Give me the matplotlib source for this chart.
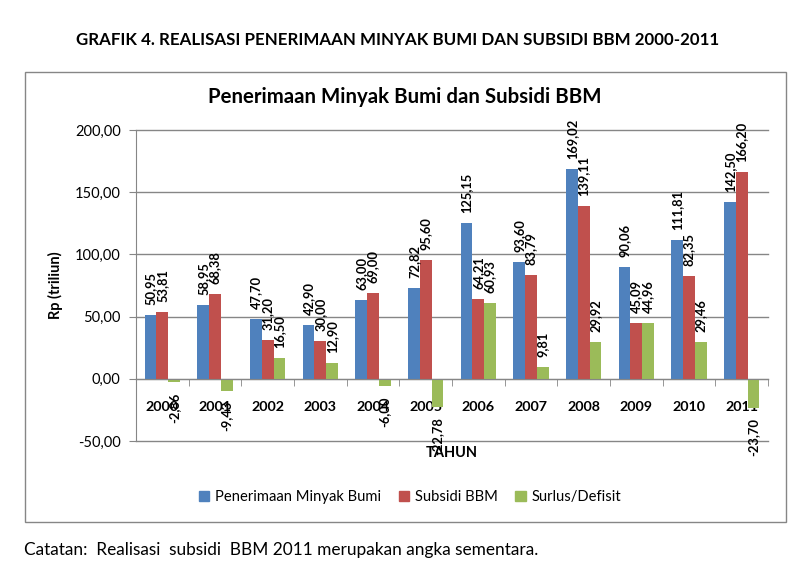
import matplotlib.pyplot as plt
from matplotlib.patches import Rectangle, Patch
import numpy as np

tahun = ['2000', '2001', '2002', '2003', '2004', '2005',
         '2006', '2007', '2008', '2009', '2010', '2011']
penerimaan = [50.95, 58.95, 47.70, 42.90, 63.00, 72.82,
              125.15, 93.60, 169.02, 90.06, 111.81, 142.50]
subsidi = [53.81, 68.38, 31.20, 30.00, 69.00, 95.60,
           64.21, 83.79, 139.11, 45.09, 82.35, 166.20]
surplus = [-2.86, -9.43, 16.50, 12.90, -6.00, -22.78,
           60.93, 9.81, 29.92, 44.96, 29.46, -23.70]

series = [('Penerimaan Minyak Bumi', penerimaan, '#4F81BD'),
          ('Subsidi BBM', subsidi, '#C0504D'),
          ('Surlus/Defisit', surplus, '#9BBB59')]

GRAY = '#868686'
W, H = 811, 581

plt.rcParams['font.family'] = 'Lato'


def fmt(v):
    return f'{v:.2f}'.replace('.', ',')


fig = plt.figure(figsize=(W / 100, H / 100), dpi=100)

# chart frame
fig.patches.append(Rectangle((25 / W, 1 - 522 / H), 761 / W, 450 / H,
                             transform=fig.transFigure, fill=False,
                             edgecolor=GRAY, linewidth=1))

ax = fig.add_axes([136 / W, 1 - 441 / H, (768 - 136) / W, (441 - 130) / H])

x = np.arange(len(tahun))
bw = 0.222
for k, (name, vals, col) in enumerate(series):
    xs = x + (k - 1) * bw
    ax.bar(xs, vals, bw, color=col, zorder=2)
    for xi, v in zip(xs, vals):
        off = 10 if v >= 0 else -10
        ax.annotate(fmt(v), (xi, v), xytext=(0, off), textcoords='offset pixels',
                    rotation=90, ha='center', va='bottom' if v >= 0 else 'top',
                    fontsize=9.3, fontweight='bold', zorder=4)

yt = [-50, 0, 50, 100, 150, 200]
ax.set_xlim(-0.5, len(tahun) - 0.5)
ax.set_ylim(-50, 200)
ax.set_yticks(yt)
ax.set_yticklabels([fmt(v) for v in yt], fontsize=10.5)
ax.yaxis.grid(True, color=GRAY, linewidth=1, zorder=0)
for gl in ax.get_ygridlines():
    gl.set_clip_on(False)
ax.set_axisbelow(True)

ax.spines['top'].set_visible(False)
ax.spines['right'].set_visible(False)
ax.spines['left'].set_color(GRAY)
ax.spines['bottom'].set_position(('data', 0))
ax.spines['bottom'].set_color(GRAY)
ax.spines['bottom'].set_zorder(3)

ax.set_xticks(x)
ax.set_xticklabels(tahun, fontsize=10.3, fontweight='bold')
ax.set_xticks(np.arange(len(tahun) + 1) - 0.5, minor=True)
ax.tick_params(axis='x', which='major', length=0, pad=16)
ax.tick_params(axis='x', which='minor', length=5, color=GRAY, direction='out')
ax.tick_params(axis='y', length=5, color=GRAY, pad=6)

fig.text(452 / W, 1 - 453 / H, 'TAHUN', ha='center', va='center',
         fontsize=10.5, fontweight='bold')
fig.text(55 / W, 1 - 285 / H, 'Rp (triliun)', rotation=90, ha='center',
         va='center', fontsize=10.5, fontweight='bold')

fig.text(405 / W, 1 - 97 / H, 'Penerimaan Minyak Bumi dan Subsidi BBM',
         ha='center', va='center', fontsize=14.7, fontweight='bold')
fig.text(398 / W, 1 - 40 / H,
         'GRAFIK 4. REALISASI PENERIMAAN MINYAK BUMI DAN SUBSIDI BBM 2000-2011',
         ha='center', va='center', fontsize=12.2, fontweight='bold')
fig.text(24 / W, 1 - 550 / H,
         'Catatan:  Realisasi  subsidi  BBM 2011 merupakan angka sementara.',
         ha='left', va='center', fontsize=12.4)

handles = [Patch(color=c, label=n) for n, _, c in series]
fig.legend(handles=handles, loc='center', bbox_to_anchor=(410 / W, 1 - 497 / H),
           ncol=3, frameon=False, fontsize=10.6, handlelength=0.7,
           handleheight=0.7, handletextpad=0.4, columnspacing=1.2)

fig.savefig('out.png', dpi=100)
